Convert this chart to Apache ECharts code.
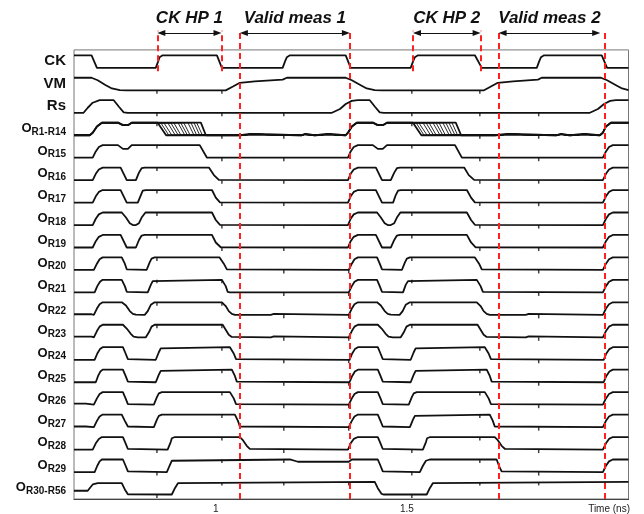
<!DOCTYPE html>
<html><head><meta charset="utf-8">
<script src="https://cdn.jsdelivr.net/npm/echarts@6/dist/echarts.min.js"></script>
<style>html,body{margin:0;padding:0;background:#fff}#c{width:644px;height:514px}</style>
</head><body><div id="c"></div>
<script>
// ---------- data (time in ns, level 0 = low, 1 = high) ----------
const traceNames = ['CK','VM','Rs','R1-R14','R15','R16','R17','R18','R19','R20','R21','R22','R23','R24','R25','R26','R27','R28','R29','R30-R56'];
const tickValues = [1, 1.5];
const axisMin = 0.629, axisMax = 2.080;

const ck = [[0.629,1],[0.675,1],[0.689,0],[0.843,0],[0.849,0.5],[0.853,0.85],[0.861,1],[1.003,1],[1.016,0],[1.175,0],[1.181,0.5],[1.186,0.85],[1.194,1],[1.340,1],[1.353,0],[1.510,0],[1.516,0.5],[1.521,0.85],[1.529,1],[1.678,1],[1.696,0],[1.840,0],[1.846,0.5],[1.851,0.85],[1.859,1],[2.010,1],[2.024,0],[2.080,0]];
const vm = [[0.629,1],[0.675,1],[0.691,0.8],[0.710,0.45],[0.728,0.15],[0.749,0.02],[0.767,0],[1.026,0],[1.045,0.3],[1.063,0.6],[1.102,0.72],[1.175,0.85],[1.186,1],[1.340,1],[1.356,0.8],[1.377,0.45],[1.395,0.15],[1.416,0.02],[1.435,0],[1.702,0],[1.720,0.3],[1.738,0.6],[1.778,0.72],[1.843,0.85],[1.853,1],[2.008,1],[2.024,0.8],[2.045,0.45],[2.063,0.15],[2.080,0.02]];
const rs = [[0.629,0],[0.654,0],[0.665,0.4],[0.678,0.8],[0.696,1],[0.733,1],[0.746,0.5],[0.759,0.03],[0.770,0],[1.304,0],[1.325,0.3],[1.340,0.7],[1.356,0.95],[1.372,1],[1.403,1],[1.416,0.5],[1.429,0.03],[1.440,0],[1.979,0],[2.000,0.3],[2.016,0.7],[2.032,0.95],[2.047,1],[2.080,1]];

// O_R1-R14: shared parts + individual fall edges (start, end) of the 14 outputs
const r1Head = [[0.629,0],[0.670,0],[0.678,0.2],[0.689,0.7],[0.702,1],[0.744,1],[0.757,0.8],[0.770,0.8],[0.780,1]];
const r1Fall1 = [[0.848,0.870],[0.856,0.877],[0.864,0.885],[0.874,0.894],[0.882,0.902],[0.890,0.909],[0.901,0.919],[0.908,0.926],[0.916,0.933],[0.927,0.943],[0.935,0.950],[0.943,0.958],[0.950,0.965],[0.961,0.974]];
const r1Mid = [[1.063,0],[1.068,0.08],[1.092,0.08],[1.097,0],[1.225,0],[1.228,0.08],[1.234,0.08],[1.237,0],[1.259,0],[1.263,0.08],[1.294,0.08],[1.298,0],[1.340,0],[1.346,0.2],[1.356,0.7],[1.369,1],[1.411,1],[1.424,0.8],[1.437,0.8],[1.448,1]];
const r1Fall2 = [[1.516,1.538],[1.524,1.545],[1.531,1.553],[1.542,1.562],[1.550,1.570],[1.558,1.577],[1.568,1.587],[1.576,1.594],[1.584,1.601],[1.594,1.611],[1.602,1.618],[1.610,1.626],[1.618,1.633],[1.628,1.642]];
const r1Tail = [[1.730,0],[1.735,0.08],[1.765,0.08],[1.770,0],[1.892,0],[1.897,0.08],[1.903,0.08],[1.908,0],[1.926,0],[1.931,0.08],[1.965,0.08],[1.970,0],[2.005,0],[2.013,0.2],[2.021,0.7],[2.034,1],[2.080,1]];

const r15 = [[0.629,0],[0.678,0],[0.686,0.5],[0.694,0.85],[0.704,1],[0.744,1],[0.757,0.7],[0.770,0.7],[0.780,1],[0.958,1],[0.977,0],[1.346,0],[1.353,0.5],[1.361,0.85],[1.372,1],[1.411,1],[1.424,0.7],[1.437,0.7],[1.448,1],[1.626,1],[1.644,0],[2.013,0],[2.021,0.5],[2.029,0.85],[2.039,1],[2.080,1]];
const r16 = [[0.629,0],[0.678,0],[0.686,0.5],[0.694,0.85],[0.704,1],[0.751,1],[0.767,0],[0.791,0],[0.799,0.6],[0.806,0.95],[0.814,1],[0.982,1],[0.995,0.4],[1.008,0.02],[1.013,0],[1.346,0],[1.353,0.5],[1.361,0.85],[1.372,1],[1.419,1],[1.435,0],[1.458,0],[1.467,0.6],[1.474,0.95],[1.482,1],[1.650,1],[1.662,0.4],[1.676,0.02],[1.681,0],[2.013,0],[2.021,0.5],[2.029,0.85],[2.039,1],[2.080,1]];
const r17 = [[0.629,0],[0.678,0],[0.686,0.5],[0.694,0.85],[0.704,1],[0.751,1],[0.767,0],[0.796,0],[0.804,0.6],[0.809,0.95],[0.817,1],[0.990,1],[1.000,0.4],[1.011,0.02],[1.016,0],[1.346,0],[1.353,0.5],[1.361,0.85],[1.372,1],[1.419,1],[1.435,0],[1.464,0],[1.471,0.6],[1.477,0.95],[1.484,1],[1.657,1],[1.668,0.4],[1.678,0.02],[1.683,0],[2.013,0],[2.021,0.5],[2.029,0.85],[2.039,1],[2.080,1]];
const r18 = [[0.629,0],[0.678,0],[0.686,0.5],[0.694,0.85],[0.704,1],[0.754,1],[0.765,0.6],[0.775,0.15],[0.783,0],[0.791,0],[0.799,0.15],[0.806,0.6],[0.816,1],[0.990,1],[1.000,0.4],[1.011,0.02],[1.016,0],[1.346,0],[1.353,0.5],[1.361,0.85],[1.372,1],[1.422,1],[1.432,0.6],[1.442,0.15],[1.450,0],[1.458,0],[1.467,0.15],[1.474,0.6],[1.483,1],[1.657,1],[1.668,0.4],[1.678,0.02],[1.683,0],[2.013,0],[2.021,0.5],[2.029,0.85],[2.039,1],[2.080,1]];
const r19 = [[0.629,0],[0.678,0],[0.686,0.5],[0.694,0.85],[0.704,1],[0.751,1],[0.767,0],[0.791,0],[0.799,0.6],[0.806,0.95],[0.814,1],[0.990,1],[1.000,0.4],[1.013,0.02],[1.018,0],[1.346,0],[1.353,0.5],[1.361,0.85],[1.372,1],[1.419,1],[1.435,0],[1.458,0],[1.467,0.6],[1.474,0.95],[1.482,1],[1.657,1],[1.668,0.4],[1.680,0.02],[1.685,0],[2.013,0],[2.021,0.5],[2.029,0.85],[2.039,1],[2.080,1]];
const r20 = [[0.629,0],[0.681,0],[0.689,0.5],[0.696,0.85],[0.704,1],[0.754,1],[0.762,0.5],[0.767,0.05],[0.772,0],[0.819,0],[0.827,0.6],[0.832,0.9],[0.840,1],[1.010,1],[1.021,0.5],[1.029,0.05],[1.034,0],[1.348,0],[1.356,0.5],[1.363,0.85],[1.372,1],[1.422,1],[1.429,0.5],[1.435,0.05],[1.440,0],[1.487,0],[1.495,0.6],[1.500,0.9],[1.508,1],[1.678,1],[1.689,0.5],[1.696,0.05],[1.701,0],[2.013,0],[2.021,0.5],[2.029,0.85],[2.039,1],[2.080,1]];
const r21 = [[0.629,0],[0.683,0],[0.690,0.5],[0.697,0.85],[0.704,1],[0.754,1],[0.762,0.5],[0.767,0.05],[0.772,0],[0.822,0],[0.830,0.6],[0.835,0.9],[0.840,1],[1.016,1],[1.026,0.5],[1.031,0.05],[1.037,0],[1.348,0],[1.356,0.5],[1.363,0.85],[1.372,1],[1.422,1],[1.429,0.5],[1.435,0.05],[1.440,0],[1.490,0],[1.497,0.6],[1.503,0.9],[1.508,1],[1.683,1],[1.693,0.5],[1.699,0.05],[1.704,0],[2.013,0],[2.021,0.5],[2.029,0.85],[2.039,1],[2.080,1]];
const r22 = [[0.629,0.05],[0.675,0.05],[0.681,0],[0.689,0.5],[0.696,0.85],[0.704,1],[0.754,1],[0.765,0.75],[0.775,0.3],[0.783,0.08],[0.791,0.02],[0.814,0],[0.822,0.3],[0.830,0.8],[0.840,1],[1.016,1],[1.026,0.7],[1.034,0.3],[1.042,0.08],[1.050,0],[1.144,0],[1.147,0.08],[1.152,0.08],[1.155,0],[1.348,0],[1.356,0.5],[1.363,0.85],[1.372,1],[1.422,1],[1.432,0.75],[1.442,0.3],[1.450,0.08],[1.458,0.02],[1.481,0],[1.489,0.3],[1.497,0.8],[1.508,1],[1.683,1],[1.693,0.7],[1.701,0.3],[1.709,0.08],[1.717,0],[1.811,0],[1.814,0.08],[1.819,0.08],[1.822,0],[2.013,0],[2.021,0.5],[2.029,0.85],[2.039,1],[2.080,1]];
const r23 = [[0.629,0.05],[0.675,0.05],[0.681,0],[0.689,0.5],[0.696,0.85],[0.704,1],[0.757,1],[0.767,0.7],[0.777,0.3],[0.785,0.05],[0.796,0],[0.817,0],[0.825,0.4],[0.832,0.85],[0.840,1],[1.018,1],[1.026,0.6],[1.034,0.2],[1.042,0.03],[1.047,0],[1.144,0],[1.147,0.08],[1.152,0.08],[1.155,0],[1.348,0],[1.356,0.5],[1.363,0.85],[1.372,1],[1.424,1],[1.434,0.7],[1.444,0.3],[1.452,0.05],[1.463,0],[1.484,0],[1.492,0.4],[1.499,0.85],[1.508,1],[1.685,1],[1.693,0.6],[1.701,0.2],[1.709,0.03],[1.714,0],[1.811,0],[1.814,0.08],[1.819,0.08],[1.822,0],[2.013,0],[2.021,0.5],[2.029,0.85],[2.039,1],[2.080,1]];
const r24 = [[0.629,0],[0.683,0],[0.690,0.5],[0.697,0.85],[0.704,1],[0.757,1],[0.764,0.5],[0.770,0.05],[0.775,0],[0.843,0],[0.851,0.6],[0.856,0.9],[0.861,1],[1.037,1],[1.047,0.5],[1.053,0.05],[1.058,0],[1.350,0],[1.357,0.5],[1.364,0.85],[1.372,1],[1.424,1],[1.431,0.5],[1.437,0.05],[1.442,0],[1.510,0],[1.518,0.6],[1.523,0.9],[1.528,1],[1.704,1],[1.714,0.5],[1.720,0.05],[1.725,0],[2.015,0],[2.022,0.5],[2.030,0.85],[2.039,1],[2.080,1]];
const r25 = [[0.629,0],[0.686,0],[0.692,0.5],[0.698,0.85],[0.704,1],[0.757,1],[0.764,0.5],[0.770,0.05],[0.775,0],[0.843,0],[0.851,0.6],[0.856,0.9],[0.861,1],[1.042,1],[1.050,0.5],[1.055,0.05],[1.060,0],[1.350,0],[1.357,0.5],[1.364,0.85],[1.372,1],[1.424,1],[1.431,0.5],[1.437,0.05],[1.442,0],[1.510,0],[1.518,0.6],[1.523,0.9],[1.528,1],[1.709,1],[1.717,0.5],[1.722,0.05],[1.727,0],[2.015,0],[2.022,0.5],[2.030,0.85],[2.039,1],[2.080,1]];
const r26 = [[0.629,0.08],[0.660,0.08],[0.665,0],[0.681,0],[0.689,0.5],[0.696,0.85],[0.704,1],[0.757,1],[0.764,0.5],[0.770,0.05],[0.775,0],[0.838,0],[0.846,0.6],[0.851,0.9],[0.859,1],[1.037,1],[1.047,0.5],[1.053,0.05],[1.058,0],[1.348,0],[1.356,0.5],[1.363,0.85],[1.372,1],[1.424,1],[1.431,0.5],[1.437,0.05],[1.442,0],[1.505,0],[1.513,0.6],[1.518,0.9],[1.526,1],[1.704,1],[1.714,0.5],[1.720,0.05],[1.725,0],[2.013,0],[2.021,0.5],[2.029,0.85],[2.039,1],[2.080,1]];
const r27 = [[0.629,0.05],[0.660,0.05],[0.665,0],[0.681,0],[0.689,0.5],[0.696,0.85],[0.704,1],[0.754,1],[0.762,0.5],[0.770,0.05],[0.775,0],[0.838,0],[0.846,0.6],[0.851,0.9],[0.859,1],[1.050,1],[1.058,0.5],[1.063,0.05],[1.068,0],[1.348,0],[1.356,0.5],[1.363,0.85],[1.372,1],[1.424,1],[1.431,0.5],[1.437,0.05],[1.442,0],[1.508,0],[1.516,0.6],[1.521,0.9],[1.526,1],[1.717,1],[1.725,0.5],[1.730,0.05],[1.735,0],[2.013,0],[2.021,0.5],[2.029,0.85],[2.039,1],[2.080,1]];
const r28 = [[0.629,0],[0.678,0],[0.686,0.5],[0.694,0.85],[0.702,1],[0.757,1],[0.764,0.5],[0.770,0.05],[0.775,0],[0.874,0],[0.882,0.6],[0.885,0.9],[0.893,1],[1.063,1],[1.071,0.75],[1.081,0.3],[1.089,0.05],[1.094,0],[1.346,0],[1.353,0.5],[1.361,0.85],[1.372,1],[1.424,1],[1.431,0.5],[1.437,0.05],[1.442,0],[1.542,0],[1.550,0.6],[1.553,0.9],[1.561,1],[1.730,1],[1.738,0.75],[1.748,0.3],[1.757,0.05],[1.762,0],[2.013,0],[2.021,0.5],[2.029,0.85],[2.039,1],[2.080,1]];
const r29 = [[0.629,0],[0.683,0],[0.690,0.5],[0.696,0.85],[0.702,1],[0.757,1],[0.764,0.5],[0.770,0.05],[0.775,0],[0.872,0],[0.879,0.5],[0.885,0.9],[0.888,1],[1.194,1],[1.215,0.82],[1.348,0.82],[1.356,1],[1.424,1],[1.431,0.5],[1.437,0.05],[1.442,0],[1.534,0],[1.542,0.5],[1.550,0.9],[1.560,1],[1.735,1],[1.741,0.5],[1.748,0.05],[1.753,0],[2.013,0],[2.021,0.5],[2.029,0.85],[2.039,1],[2.080,1]];
const r30 = [[0.629,0.3],[0.665,0.3],[0.670,0.5],[0.678,0.8],[0.691,0.9],[0.754,0.9],[0.762,0.4],[0.770,0.02],[0.775,0],[0.885,0],[0.893,0.5],[0.901,0.9],[0.906,1],[1.416,1],[1.424,0.5],[1.434,0.05],[1.440,0],[1.552,0],[1.560,0.5],[1.568,0.9],[1.573,1],[2.080,1]];

// clock-edge coupling glitch times
const glitchTimes = [0.846, 1.016, 1.178, 1.348, 1.513, 1.691, 1.845, 2.018];
// annotations
const spanNames = ['CK HP 1','Valid meas 1','CK HP 2','Valid meas 2'];
const spanStart = [0.847, 1.063, 1.516, 1.740];
const spanEnd = [1.015, 1.351, 1.693, 2.006];
const dashFull = [1.063, 1.351, 1.740, 2.018];
const dashShort = [0.847, 1.015, 1.516, 1.693];

// ---------- layout ----------
const AMP = 0.56;
const base = k => 19.2 - k;
const FONT = 'Liberation Sans, Arial, sans-serif';
const INK = '#111';

function toXY(trace, k) { return trace.map(p => [p[0], base(k) + p[1] * AMP]); }
function levelAt(trace, t) {
  for (let i = 1; i < trace.length; i++) {
    const a = trace[i-1], b = trace[i];
    if (t >= a[0] && t <= b[0]) return b[0] === a[0] ? b[1] : a[1] + (b[1]-a[1])*(t-a[0])/(b[0]-a[0]);
  }
  return trace[trace.length-1][1];
}

const r1Traces = r1Fall1.map((f, i) => r1Head.concat([[f[0],1],[f[1],0]], r1Mid, [[r1Fall2[i][0],1],[r1Fall2[i][1],0]], r1Tail));
const traces = [ck, vm, rs, r1Traces[13], r15, r16, r17, r18, r19, r20, r21, r22, r23, r24, r25, r26, r27, r28, r29, r30];

const series = [];
traces.forEach((tr, k) => {
  if (k === 3) {
    r1Traces.forEach((rt, i) => series.push({
      type: 'line', data: toXY(rt, 3), symbol: 'none', silent: true, animation: false,
      lineStyle: { color: INK, width: (i === 0 || i === 13) ? 1.8 : 0.9 }
    }));
  } else {
    series.push({ type: 'line', data: toXY(tr, k), symbol: 'none', silent: true, animation: false,
      lineStyle: { color: INK, width: 1.8 } });
  }
});

const glitches = [];
traces.forEach((tr, k) => {
  if (k === 0) return;
  glitchTimes.forEach(t => {
    const l = levelAt(tr, t);
    if (l <= 0.1 || l >= 0.95) glitches.push([t, base(k) + l * AMP]);
  });
});
series.push({ type: 'scatter', data: glitches, symbol: 'rect', symbolSize: [1.5, 3.5], symbolOffset: [0, 1.75],
  itemStyle: { color: INK }, silent: true, animation: false, z: 3 });

// frame
series.push({ type: 'line', data: [], silent: true, animation: false,
  markArea: { silent: true, itemStyle: { color: 'rgba(0,0,0,0)', borderColor: '#777', borderWidth: 1 },
    data: [[{ coord: [axisMin, 0] }, { coord: [axisMax, 20] }]] } });
// red dashed markers
series.push({ type: 'line', data: [], silent: true, animation: false,
  markLine: { silent: true, symbol: 'none', animation: false, label: { show: false },
    lineStyle: { color: '#ff2020', width: 2, type: [6, 4] },
    data: dashFull.map(t => [{ coord: [t, 0] }, { coord: [t, 20.85] }])
      .concat(dashShort.map(t => [{ coord: [t, 19.05] }, { coord: [t, 20.85] }])) } });
// arrows with labels
const INSET = 0.0105;
series.push({ type: 'line', data: [], silent: true, animation: false,
  markLine: { silent: true, animation: false, symbol: ['triangle', 'triangle'], symbolSize: [6, 8],
    lineStyle: { color: INK, width: 1, type: 'solid' },
    label: { show: true, position: 'insideMiddleTop', distance: 6, formatter: p => p.name,
      fontFamily: FONT, fontSize: 17, fontWeight: 'bold', fontStyle: 'italic', color: INK },
    data: spanNames.map((n, i) => [{ name: n, coord: [spanStart[i] + INSET, 20.756] }, { coord: [spanEnd[i] - INSET, 20.756] }]) } });

const chart = echarts.init(document.getElementById('c'), null, { renderer: 'canvas' });
chart.setOption({
  animation: false,
  backgroundColor: '#fff',
  title: { text: 'Time (ns)', right: 14, bottom: 0, padding: 0,
    textStyle: { fontFamily: FONT, fontSize: 10, fontWeight: 'normal', color: '#222' } },
  grid: { left: 74, right: 15.5, top: 5, bottom: 14, containLabel: false },
  xAxis: { type: 'value', min: axisMin, max: axisMax,
    axisLine: { onZero: false, lineStyle: { color: INK, width: 1 } },
    axisTick: { show: false }, splitLine: { show: false },
    axisLabel: { customValues: tickValues, margin: 5, fontSize: 10, color: '#222', fontFamily: FONT } },
  yAxis: [
    { type: 'value', min: 0, max: 22, show: false },
    { type: 'category', inverse: true, position: 'left', data: ['', ''].concat(traceNames),
      axisLine: { show: false }, axisTick: { show: false }, splitLine: { show: false },
      axisLabel: { interval: 0, margin: 8,
        formatter: v => v === '' ? '' : (v[0] === 'R' && v[1] !== 's' ? '{o|O}{s|' + v + '}' : '{b|' + v + '}'),
        rich: {
          b: { fontFamily: FONT, fontSize: 15, fontWeight: 'bold', color: INK },
          o: { fontFamily: FONT, fontSize: 13, fontWeight: 'bold', color: INK },
          s: { fontFamily: FONT, fontSize: 10, fontWeight: 'bold', color: INK, padding: [7, 0, 0, 0] }
        } } }
  ],
  series: series
});
</script></body></html>
